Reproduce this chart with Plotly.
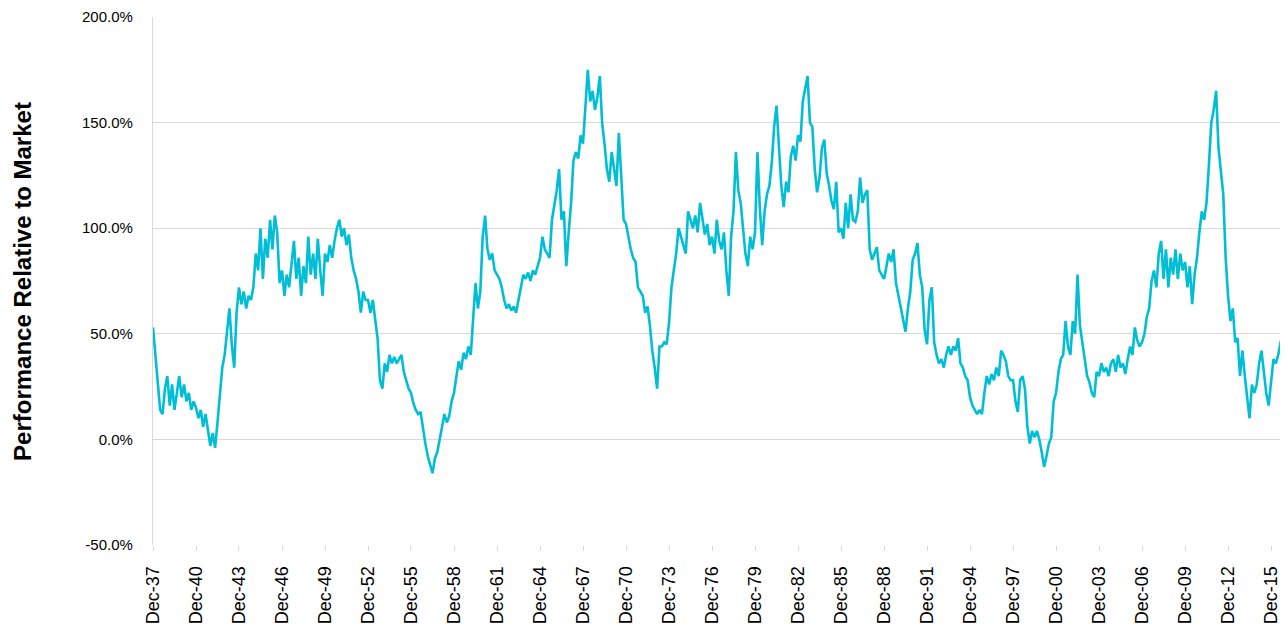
import plotly.graph_objects as go
import pandas as pd

# Relative performance (%), one row per year starting each December, sampled every 2 months
rows = [
    [53, 40, 26, 14, 12, 24],      # Dec-37
    [30, 16, 26, 14, 22, 30],
    [20, 26, 18, 22, 14, 18],
    [15, 10, 14, 6, 12, 4],        # Dec-40
    [-3, 3, -4, 8, 20, 34],
    [40, 52, 62, 45, 34, 60],
    [72, 64, 70, 62, 68, 66],      # Dec-43
    [72, 88, 80, 100, 76, 95],
    [86, 104, 90, 106, 98, 74],
    [80, 68, 78, 72, 82, 94],      # Dec-46
    [76, 86, 68, 82, 74, 96],
    [78, 88, 76, 95, 80, 68],
    [88, 84, 92, 86, 94, 100],     # Dec-49
    [104, 96, 100, 92, 97, 86],
    [80, 76, 70, 60, 70, 66],
    [66, 60, 66, 58, 48, 28],      # Dec-52
    [24, 36, 32, 40, 36, 39],
    [36, 38, 40, 32, 28, 24],
    [22, 17, 14, 12, 13, 5],       # Dec-55
    [-2, -8, -12, -16, -9, -6],
    [0, 6, 12, 8, 11, 18],
    [22, 30, 37, 33, 41, 38],      # Dec-58
    [44, 40, 58, 74, 62, 70],
    [96, 106, 90, 85, 88, 80],
    [78, 76, 72, 66, 62, 64],      # Dec-61
    [61, 63, 60, 66, 72, 78],
    [76, 79, 75, 80, 78, 82],
    [86, 96, 90, 88, 86, 104],     # Dec-64
    [110, 118, 128, 104, 108, 82],
    [98, 112, 132, 136, 133, 144],
    [140, 156, 175, 160, 165, 156],  # Dec-67
    [162, 172, 150, 140, 128, 122],
    [136, 128, 120, 145, 124, 104],
    [102, 96, 90, 86, 84, 72],     # Dec-70
    [70, 68, 60, 63, 54, 42],
    [34, 24, 44, 44, 46, 45],
    [55, 72, 80, 88, 100, 96],     # Dec-73
    [92, 88, 108, 104, 100, 106],
    [98, 112, 104, 97, 102, 92],
    [96, 88, 104, 94, 90, 98],     # Dec-76
    [80, 68, 96, 108, 136, 118],
    [112, 100, 88, 82, 96, 90],
    [98, 136, 110, 92, 108, 116],  # Dec-79
    [120, 131, 148, 158, 138, 120],
    [110, 122, 117, 134, 139, 132],
    [144, 141, 160, 166, 172, 150],  # Dec-82
    [148, 128, 117, 124, 138, 142],
    [126, 120, 113, 109, 122, 98],
    [100, 95, 112, 100, 116, 104],  # Dec-85
    [103, 108, 124, 112, 116, 118],
    [90, 85, 88, 91, 80, 78],
    [76, 82, 88, 84, 90, 74],      # Dec-88
    [68, 62, 56, 51, 62, 70],
    [85, 88, 93, 78, 72, 52],
    [45, 66, 72, 46, 40, 36],      # Dec-91
    [38, 34, 40, 44, 40, 44],
    [42, 48, 36, 34, 30, 28],
    [20, 16, 14, 12, 14, 12],      # Dec-94
    [22, 30, 26, 31, 28, 34],
    [30, 42, 40, 37, 30, 28],
    [28, 18, 13, 28, 30, 24],      # Dec-97
    [6, -2, 4, 1, 4, 0],
    [-6, -13, -8, -2, 1, 18],
    [22, 32, 38, 40, 56, 44],      # Dec-00
    [40, 56, 50, 78, 54, 46],
    [36, 30, 27, 22, 20, 32],
    [30, 36, 32, 34, 30, 36],      # Dec-03
    [38, 32, 40, 34, 36, 31],
    [38, 44, 40, 53, 47, 44],
    [46, 50, 58, 62, 75, 80],      # Dec-06
    [72, 88, 94, 76, 90, 72],
    [86, 78, 90, 76, 88, 80],
    [84, 72, 82, 64, 78, 86],      # Dec-09
    [98, 108, 104, 112, 130, 150],
    [156, 165, 138, 126, 116, 86],
    [68, 56, 62, 46, 48, 30],      # Dec-12
    [42, 30, 20, 10, 26, 22],
    [26, 36, 42, 32, 22, 16],
    [28, 38, 36, 40, 46, 50],      # Dec-15
]
values = [v for r in rows for v in r]
dates = pd.date_range("1937-12-01", periods=len(values), freq="2MS")

tick_years = list(range(1937, 2016, 3))
tick_vals = [pd.Timestamp(f"{y}-12-01") for y in tick_years]
tick_text = [f"Dec-{y % 100:02d}" for y in tick_years]

y_ticks = [-50, 0, 50, 100, 150, 200]
y_text = [f"{v:.1f}%" for v in y_ticks]

fig = go.Figure()
fig.add_trace(go.Scatter(x=dates, y=values, mode="lines",
                         line=dict(color="#00BED6", width=2.6),
                         showlegend=False, hoverinfo="skip"))

fig.update_layout(
    width=1280, height=635,
    margin=dict(l=145, r=5, t=9, b=98),
    paper_bgcolor="white", plot_bgcolor="white",
    font=dict(family="Liberation Sans, Arial, sans-serif", color="#000000"),
    annotations=[dict(
        text="<b>Performance Relative to Market</b>", textangle=-90,
        xref="paper", yref="paper", x=-0.116, y=0.5,
        xanchor="center", yanchor="middle", showarrow=False,
        font=dict(size=24, color="#000000"),
    )],
)
fig.update_xaxes(
    type="date", range=[dates[0], dates[-1]], automargin=False,
    tickmode="array", tickvals=tick_vals, ticktext=tick_text,
    tickangle=-90, tickfont=dict(size=18), ticklabelstandoff=8,
    showgrid=False, showline=False, zeroline=False,
    ticks="outside", ticklen=5, tickcolor="#d9d9d9",
)
fig.update_yaxes(
    range=[-50, 200], automargin=False,
    tickmode="array", tickvals=y_ticks, ticktext=y_text,
    tickfont=dict(size=15), ticklabelstandoff=16,
    showgrid=True, gridcolor="#d9d9d9", gridwidth=1.3,
    zeroline=False, showline=True, linecolor="#d9d9d9", linewidth=1.3,
)

fig.write_html("out.html")
